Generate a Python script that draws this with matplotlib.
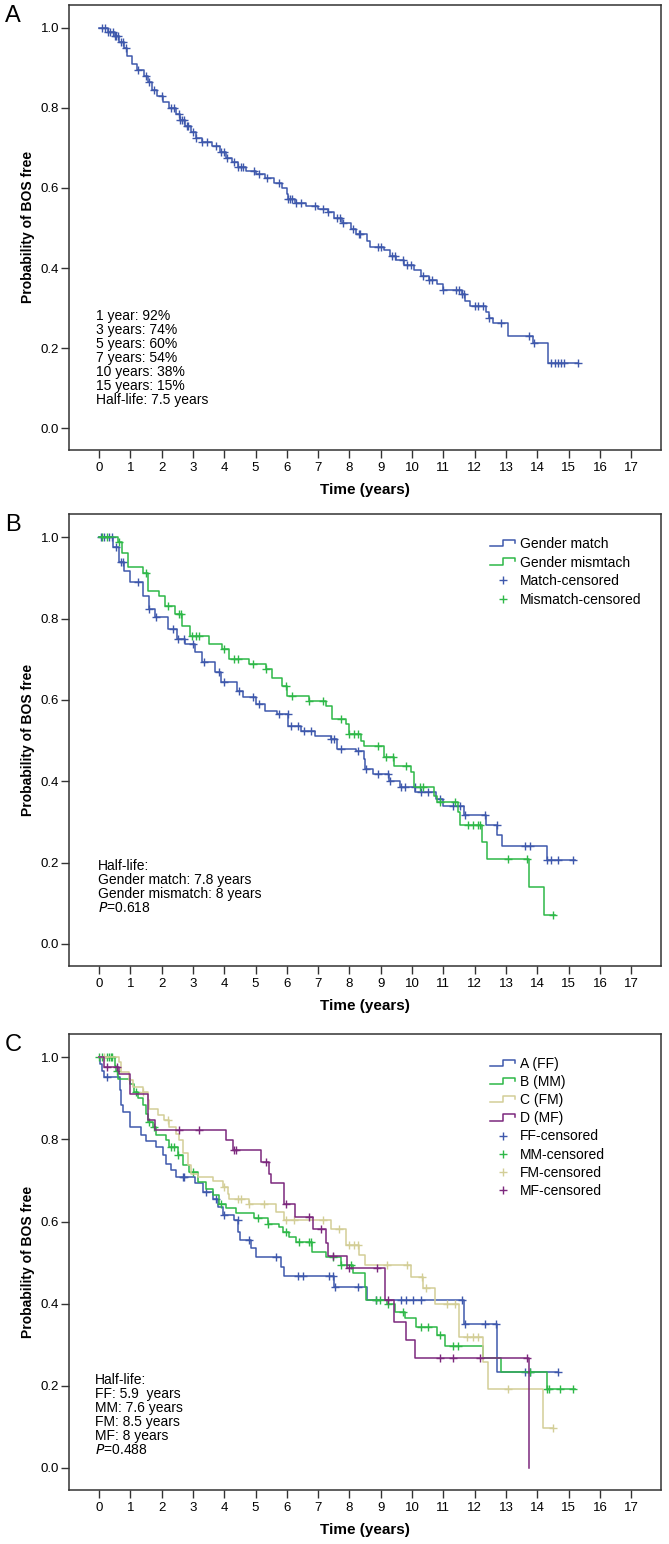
import numpy as np
import matplotlib
matplotlib.use("Agg")
import matplotlib.pyplot as plt
from matplotlib.lines import Line2D
from matplotlib.legend_handler import HandlerBase

plt.rcParams['font.family'] = ['Liberation Sans Narrow', 'Liberation Sans', 'DejaVu Sans']
plt.rcParams['mathtext.fontset'] = 'custom'
plt.rcParams['mathtext.rm'] = 'Liberation Sans Narrow'
plt.rcParams['mathtext.it'] = 'Liberation Sans Narrow:italic'

# SPSS default colours
blue = '#3e58ac'
green = '#2eb848'
tan = '#d3ce97'
purple = '#7c287d'

# ---- panel A: all patients (event times, survival after event, censored times)
a_t = [0, 0.3, 0.5, 0.65, 0.8, 0.9, 1.05, 1.2, 1.45, 1.55, 1.7, 1.85, 2.05, 2.25, 2.45, 2.6,
       2.75, 2.95, 3.1, 3.3, 3.6, 3.85, 4.05, 4.25, 4.45, 4.7, 5.0, 5.3, 5.6, 5.85, 6.0, 6.05,
       6.25, 6.6, 7.0, 7.3, 7.5, 7.75, 8.05, 8.2, 8.55, 8.65, 9.1, 9.3, 9.5, 9.75, 10.05, 10.3,
       10.55, 10.8, 11.0, 11.6, 11.7, 11.85, 12.35, 12.45, 12.6, 13.05, 13.85, 14.35]
a_s = [1.0, 0.99, 0.98, 0.965, 0.95, 0.93, 0.91, 0.895, 0.88, 0.865, 0.845, 0.83, 0.815, 0.80,
       0.785, 0.77, 0.755, 0.74, 0.725, 0.715, 0.705, 0.69, 0.675, 0.665, 0.652, 0.643, 0.635,
       0.625, 0.612, 0.60, 0.585, 0.572, 0.562, 0.555, 0.548, 0.54, 0.525, 0.513, 0.497, 0.485,
       0.468, 0.452, 0.445, 0.43, 0.42, 0.408, 0.395, 0.38, 0.37, 0.36, 0.346, 0.335, 0.318,
       0.306, 0.29, 0.275, 0.262, 0.23, 0.212, 0.162]
a_cens = [0.1, 0.2, 0.3, 0.35, 0.45, 0.5, 0.55, 0.62, 0.7, 0.75, 0.85, 1.25, 1.5, 1.6, 1.75,
          2.0, 2.3, 2.4, 2.55, 2.6, 2.65, 2.7, 2.8, 2.85, 3.0, 3.1, 3.3, 3.45, 3.75, 3.9, 4.0,
          4.1, 4.3, 4.45, 4.55, 4.6, 4.95, 5.1, 5.35, 5.75, 6.05, 6.1, 6.15, 6.3, 6.45, 6.9,
          7.15, 7.3, 7.6, 7.7, 7.8, 8.1, 8.3, 8.35, 8.9, 9.0, 9.35, 9.45, 9.7, 9.85, 9.95,
          10.35, 10.55, 10.65, 11.0, 11.4, 11.5, 11.6, 11.65, 12.0, 12.1, 12.25, 12.45, 12.85,
          13.75, 13.9, 14.45, 14.55, 14.65, 14.75, 14.85, 15.3]
a_end = 15.3

# ---- panel B: gender match / mismatch
b1_t = [0, 0.45, 0.65, 0.8, 1.0, 1.4, 1.6, 1.78, 2.2, 2.5, 2.75, 3.05, 3.3, 3.7, 3.9, 4.4,
        4.6, 5.0, 5.3, 5.7, 6.05, 6.45, 6.9, 7.4, 7.6, 8.2, 8.45, 8.5, 8.75, 9.25, 9.6, 10.1,
        10.75, 11.0, 11.65, 12.35, 12.72, 12.88, 14.3]
b1_s = [1.0, 0.975, 0.94, 0.917, 0.889, 0.856, 0.823, 0.803, 0.774, 0.749, 0.737, 0.717,
        0.692, 0.668, 0.643, 0.622, 0.606, 0.59, 0.573, 0.565, 0.536, 0.524, 0.512, 0.504,
        0.479, 0.475, 0.455, 0.43, 0.418, 0.40, 0.385, 0.373, 0.356, 0.34, 0.317, 0.292,
        0.268, 0.242, 0.207]
b1_cens = [0.05, 0.16, 0.32, 0.43, 0.53, 0.69, 0.75, 1.23, 1.6, 1.81, 2.35, 2.51, 2.72, 2.99,
           3.36, 3.84, 4.0, 4.48, 4.91, 5.12, 5.76, 6.03, 6.13, 6.34, 6.56, 6.77, 7.41, 7.52,
           7.74, 8.27, 8.54, 8.91, 9.23, 9.28, 9.66, 9.76, 10.08, 10.3, 10.51, 10.88, 11.31,
           11.52, 11.68, 12.32, 12.7, 13.6, 13.76, 14.32, 14.43, 14.67, 15.15]
b1_end = 15.2

b2_t = [0, 0.6, 0.72, 0.92, 1.4, 1.58, 1.9, 2.1, 2.42, 2.65, 2.9, 3.5, 3.92, 4.14, 4.78, 5.32,
        5.52, 5.85, 6.0, 6.7, 7.24, 7.45, 7.88, 7.97, 8.36, 8.46, 9.1, 9.42, 9.96, 10.06, 10.7,
        10.78, 11.46, 11.52, 12.22, 12.4, 13.72, 14.2]
b2_s = [1.0, 0.987, 0.962, 0.926, 0.913, 0.868, 0.856, 0.831, 0.811, 0.782, 0.757, 0.737,
        0.725, 0.70, 0.688, 0.676, 0.655, 0.635, 0.61, 0.598, 0.585, 0.553, 0.54, 0.516, 0.50,
        0.486, 0.459, 0.438, 0.422, 0.385, 0.364, 0.348, 0.324, 0.292, 0.251, 0.21, 0.141,
        0.071]
b2_cens = [0.1, 0.26, 0.64, 1.49, 2.19, 2.56, 2.61, 2.98, 3.09, 3.2, 4.0, 4.32, 4.43, 4.91,
           5.34, 5.97, 6.18, 6.72, 7.15, 7.74, 8.0, 8.16, 8.27, 8.91, 9.18, 9.39, 9.82, 10.24,
           10.35, 10.88, 11.36, 11.79, 11.95, 12.11, 12.16, 13.07, 13.66, 14.51]
b2_end = 14.55

# ---- panel C: donor/recipient gender groups
c1_t = [0, 0.03, 0.11, 0.16, 0.66, 0.69, 0.75, 0.98, 1.35, 1.49, 1.83, 2.03, 2.13, 2.29, 2.45,
        3.07, 3.31, 3.63, 3.79, 3.95, 4.32, 4.45, 4.5, 4.86, 5.0, 5.8, 5.92, 7.5, 8.57, 11.66,
        12.72]
c1_s = [1.0, 0.985, 0.968, 0.952, 0.92, 0.883, 0.867, 0.83, 0.81, 0.796, 0.782, 0.762, 0.741,
        0.725, 0.709, 0.693, 0.672, 0.656, 0.636, 0.616, 0.603, 0.575, 0.555, 0.535, 0.514,
        0.49, 0.467, 0.441, 0.409, 0.35, 0.233]
c1_cens = [0.27, 2.67, 2.72, 3.41, 3.73, 4.0, 4.43, 4.8, 5.65, 6.34, 6.5, 7.36, 7.47, 7.55,
           8.27, 8.86, 9.66, 9.82, 10.03, 10.3, 11.58, 11.68, 12.32, 12.68, 13.6, 13.76, 14.67]
c1_end = 14.67

c2_t = [0, 0.5, 0.55, 0.6, 0.98, 1.12, 1.23, 1.39, 1.49, 1.55, 1.71, 1.81, 2.13, 2.24, 2.51,
        2.67, 2.88, 3.15, 3.41, 3.63, 3.84, 4.06, 4.38, 4.96, 5.39, 5.76, 5.87, 6.08, 6.3, 6.8,
        7.26, 7.74, 8.11, 8.48, 8.54, 9.2, 9.44, 9.76, 10.14, 10.78, 11.04, 12.27, 12.85, 14.3]
c2_s = [1.0, 0.98, 0.968, 0.948, 0.936, 0.916, 0.90, 0.883, 0.863, 0.843, 0.83, 0.81, 0.798,
        0.782, 0.762, 0.737, 0.721, 0.697, 0.68, 0.664, 0.644, 0.632, 0.62, 0.608, 0.595,
        0.587, 0.575, 0.563, 0.551, 0.526, 0.514, 0.494, 0.474, 0.441, 0.409, 0.40, 0.38,
        0.364, 0.344, 0.324, 0.298, 0.267, 0.233, 0.192]
c2_cens = [0.0, 0.11, 0.27, 0.32, 0.37, 0.43, 0.59, 1.17, 1.6, 1.76, 2.29, 2.4, 2.51, 2.99,
           3.9, 5.07, 5.39, 5.97, 6.4, 6.72, 6.78, 7.47, 7.74, 8.05, 8.86, 8.96, 9.23, 9.71,
           10.3, 10.51, 10.88, 11.31, 11.47, 13.76, 14.3, 14.38, 14.72, 15.15]
c2_end = 15.2

c3_t = [0, 0.64, 0.69, 0.96, 1.07, 1.39, 1.55, 1.6, 1.87, 2.08, 2.24, 2.45, 2.56, 2.67, 2.83,
        2.93, 3.15, 3.63, 3.95, 4.11, 4.15, 4.8, 5.65, 5.92, 7.42, 7.9, 8.32, 8.48, 9.98, 10.35,
        10.72, 11.5, 12.25, 12.43, 14.17]
c3_s = [1.0, 0.989, 0.964, 0.944, 0.928, 0.916, 0.895, 0.875, 0.859, 0.847, 0.83, 0.814,
        0.798, 0.766, 0.737, 0.717, 0.709, 0.70, 0.684, 0.668, 0.656, 0.644, 0.624, 0.603,
        0.583, 0.543, 0.518, 0.494, 0.465, 0.437, 0.40, 0.319, 0.257, 0.192, 0.097]
c3_cens = [0.16, 1.39, 2.19, 4.0, 4.43, 4.53, 4.8, 5.28, 5.97, 6.24, 7.15, 7.68, 7.98, 8.16,
           8.27, 9.2, 9.84, 10.33, 10.46, 11.1, 11.36, 11.74, 11.95, 12.11, 13.07, 14.51]
c3_end = 14.51

c4_t = [0, 0.17, 0.64, 0.98, 1.55, 1.79, 4.06, 4.27, 5.18, 5.44, 5.5, 5.92, 6.27, 6.85, 7.26,
        7.3, 7.92, 9.12, 9.42, 9.8, 10.08, 13.75]
c4_s = [1.0, 0.976, 0.96, 0.912, 0.847, 0.822, 0.798, 0.774, 0.745, 0.717, 0.693, 0.644,
        0.611, 0.583, 0.547, 0.516, 0.486, 0.409, 0.356, 0.311, 0.267, 0.0]
c4_cens = [0.27, 0.59, 2.56, 3.2, 4.32, 4.38, 5.34, 5.98, 6.72, 7.1, 7.47, 8.0, 8.88, 9.23,
           10.88, 11.31, 12.16, 13.66]
c4_end = 13.75

years = list(range(0, 18))
yticks = [0.0, 0.2, 0.4, 0.6, 0.8, 1.0]

a_text = "1 year: 92%\n3 years: 74%\n5 years: 60%\n7 years: 54%\n10 years: 38%\n15 years: 15%\nHalf-life: 7.5 years"
b_text = "Half-life:\nGender match: 7.8 years\nGender mismatch: 8 years\n$P$=0.618"
c_text = "Half-life:\nFF: 5.9  years\nMM: 7.6 years\nFM: 8.5 years\nMF: 8 years\n$P$=0.488"
b_labels = ['Gender match', 'Gender mismtach', 'Match-censored', 'Mismatch-censored']
c_labels = ['A (FF)', 'B (MM)', 'C (FM)', 'D (MF)',
            'FF-censored', 'MM-censored', 'FM-censored', 'MF-censored']


class StepHandler(HandlerBase):
    # little step glyph like the SPSS legend
    def create_artists(self, legend, orig_handle, xdescent, ydescent, width, height,
                       fontsize, trans):
        xs = np.array([0, 0.5, 0.5, 0.97, 0.97]) * width - xdescent
        ys = np.array([0.2, 0.2, 0.85, 0.85, 0.55]) * height - ydescent
        ln = Line2D(xs, ys, color=orig_handle.get_color(), lw=orig_handle.get_linewidth(),
                    transform=trans)
        return [ln]


def km(ax, t, s, cens, end, color):
    t = np.array(t)
    s = np.array(s)
    line, = ax.step(np.append(t, end), np.append(s, s[-1]), where='post', color=color, lw=1.1)
    cens = np.array(cens)
    idx = np.searchsorted(t, cens, side='right') - 1
    marks, = ax.plot(cens, s[idx], ls='none', marker='+', ms=6, mew=1.0, color=color)
    return line, marks


def setup(ax, letter):
    ax.set_xlim(-0.96, 17.95)
    ax.set_ylim(-0.054, 1.057)
    ax.set_xticks(years)
    ax.set_yticks(yticks)
    ax.set_yticklabels(['%.1f' % v for v in yticks])
    for sp in ax.spines.values():
        sp.set_linewidth(1.1)
        sp.set_color('#333333')
    ax.tick_params(direction='out', length=6, width=1.0, color='#333333', labelsize=9.5)
    ax.tick_params(axis='y', pad=1)
    ax.tick_params(axis='x', pad=3)
    ax.set_xlabel('Time (years)', fontsize=11, fontweight='bold', labelpad=6)
    ax.set_ylabel('Probability of BOS free', fontsize=10, fontweight='bold',
                  family=['Liberation Sans', 'DejaVu Sans'], labelpad=4)
    ax.text(-0.108, 1.0, letter, transform=ax.transAxes, fontsize=17,
            family=['Liberation Sans', 'DejaVu Sans'], ha='left', va='top')


fig = plt.figure(figsize=(6.69, 15.44), dpi=100)
axA = fig.add_axes([0.1031, 0.7086, 0.8849, 0.2882])
axB = fig.add_axes([0.1031, 0.3744, 0.8849, 0.2927])
axC = fig.add_axes([0.1031, 0.0350, 0.8849, 0.2953])

# A
km(axA, a_t, a_s, a_cens, a_end, blue)
setup(axA, 'A')
axA.text(0.046, 0.317, a_text, transform=axA.transAxes, fontsize=10, va='top', ha='left',
         linespacing=1.0)

# B
l1, m1 = km(axB, b1_t, b1_s, b1_cens, b1_end, blue)
l2, m2 = km(axB, b2_t, b2_s, b2_cens, b2_end, green)
setup(axB, 'B')
axB.text(0.049, 0.237, b_text, transform=axB.transAxes, fontsize=10, va='top', ha='left',
         linespacing=1.0)
axB.legend([l1, l2, m1, m2], b_labels, loc='upper left', bbox_to_anchor=(0.699, 0.964),
           frameon=False, borderpad=0, handlelength=1.9, handletextpad=0.3,
           labelspacing=0.32, prop={'family': ['Liberation Sans', 'DejaVu Sans'], 'size': 10},
           handler_map={l1: StepHandler(), l2: StepHandler()})

# C
lines = []
marks = []
for t, s, c, e, col in [(c1_t, c1_s, c1_cens, c1_end, blue), (c2_t, c2_s, c2_cens, c2_end, green),
                        (c3_t, c3_s, c3_cens, c3_end, tan), (c4_t, c4_s, c4_cens, c4_end, purple)]:
    ln, mk = km(axC, t, s, c, e, col)
    lines.append(ln)
    marks.append(mk)
setup(axC, 'C')
axC.text(0.044, 0.257, c_text, transform=axC.transAxes, fontsize=10, va='top', ha='left',
         linespacing=1.0)
axC.legend(lines + marks, c_labels, loc='upper left', bbox_to_anchor=(0.699, 0.964),
           frameon=False, borderpad=0, handlelength=1.9, handletextpad=0.3,
           labelspacing=0.29, prop={'family': ['Liberation Sans', 'DejaVu Sans'], 'size': 10},
           handler_map={ln: StepHandler() for ln in lines})

fig.savefig('out.png', dpi=100)
